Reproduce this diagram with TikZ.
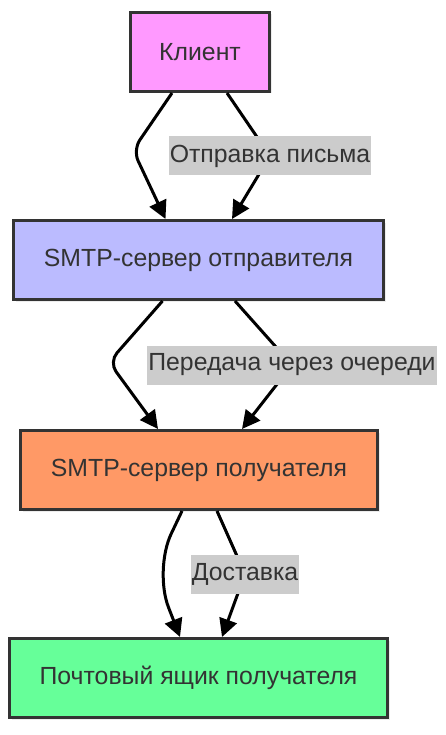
\documentclass[tikz,border=0pt]{standalone}
\usepackage{fontspec}
\setmainfont{Liberation Sans}
\usetikzlibrary{arrows.meta,shadows}
\definecolor{txt}{HTML}{333333}
\definecolor{cK}{HTML}{FF99FF}
\definecolor{cS}{HTML}{BBBBFF}
\definecolor{cR}{HTML}{FF9966}
\definecolor{cM}{HTML}{66FF99}
\definecolor{lbl}{HTML}{CCCCCC}
\tikzset{
  box/.style={draw=txt, line width=3pt, minimum height=79pt, text=txt,
    font=\fontsize{24.8}{28}\selectfont, inner sep=0pt,
    drop shadow={shadow xshift=2pt, shadow yshift=-2pt, opacity=0.15}},
  lab/.style={fill=lbl, text=txt, font=\fontsize{24.8}{28}\selectfont,
    inner xsep=1pt, inner ysep=0pt, minimum height=39pt},
  arr/.style={draw=black, line width=3pt, -{Triangle[length=18pt,width=18pt]}},
}
\begin{document}
\begin{tikzpicture}[x=1pt,y=-1pt]
\useasboundingbox (0,0) rectangle (445,735);
\node[box, fill=cK, minimum width=139pt] (k) at (200,52) {Клиент};
\node[box, fill=cS, minimum width=370pt] (s) at (198.5,260) {SMTP-сервер отправителя};
\node[box, fill=cR, minimum width=357pt] (r) at (199,470) {SMTP-сервер получателя};
\node[box, fill=cM, minimum width=378pt] (m) at (198.5,678) {Почтовый ящик получателя};
% Client -> sender
\draw[arr, rounded corners=12pt] ([xshift=-28pt]k.south) -- (133,150) -- ([xshift=-33pt]s.north);
\draw[arr] ([xshift=27pt]k.south) -- (270,156) coordinate (c1) -- ([xshift=33.5pt]s.north);
\node[lab] (l1) at (c1) {Отправка письма};
% sender -> receiver
\draw[arr, rounded corners=12pt] ([xshift=-36pt]s.south) -- (109,362) -- ([xshift=-41pt]r.north);
\draw[arr] ([xshift=36.5pt]s.south) -- (292,365) coordinate (c2) -- ([xshift=43pt]r.north);
\node[lab] (l2) at (c2) {Передача через очереди};
% receiver -> mailbox
\draw[arr, rounded corners=40pt] ([xshift=-17pt]r.south) -- (154,570) -- ([xshift=-18.5pt]m.north);
\draw[arr] ([xshift=18pt]r.south) -- (245,574) coordinate (c3) -- ([xshift=23.5pt]m.north);
\node[lab] (l3) at (c3) {Доставка};
\end{tikzpicture}
\end{document}
